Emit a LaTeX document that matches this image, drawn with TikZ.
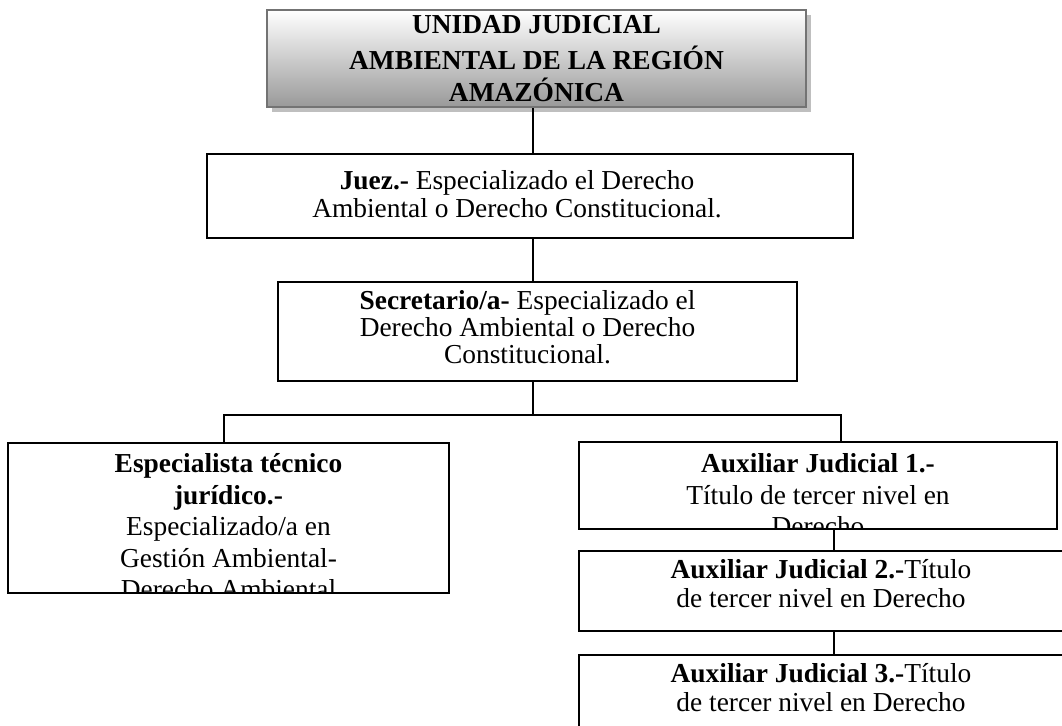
\documentclass[tikz,border=0pt]{standalone}
\usepackage{fontspec}
\setmainfont{Liberation Serif}
\usetikzlibrary{shadows}

\tikzset{
  caja/.style={draw=black, line width=1pt, fill=white, inner sep=0pt},
  cabeza/.style={draw=black!55, line width=1.25pt, top color=white, bottom color=gray!80,
    drop shadow={shadow xshift=2.5pt, shadow yshift=-2.5pt, fill=black!25, opacity=1},
    align=center, inner sep=0pt, font=\fontsize{13.7pt}{15.75pt}\selectfont\bfseries},
  % xshift, first baseline, baselineskip, text
  texto/.style n args={4}{path picture={
      \node[anchor=north, align=center, inner sep=0pt, minimum width=0pt, minimum height=0pt,
        font=\fontsize{13.7pt}{#3}\selectfont]
        at ([xshift=#1, yshift=12pt-#2]path picture bounding box.north) {\rule{0pt}{12pt}#4};}},
  linea/.style={line width=1pt, draw=black},
}

\begin{document}
\begin{tikzpicture}[x=0.5pt, y=-0.5pt]
\useasboundingbox (0,0) rectangle (1062,726);
\clip (0,0) rectangle (1062,726);
\fill[white] (0,0) rectangle (1062,726);

% cabecera
\node[cabeza, minimum width=269.5pt, minimum height=48.5pt] (uni) at (536.5,58.5)
  {UNIDAD JUDICIAL\\[2.5pt]AMBIENTAL DE LA REGIÓN\\AMAZÓNICA};

\node[caja, minimum width=323pt, minimum height=42pt,
  texto={-6.5pt}{17.5pt}{14pt}{\textbf{Juez.-} Especializado el Derecho\\Ambiental o Derecho Constitucional.}]
  (juez) at (530,196) {};

\node[caja, minimum width=259.5pt, minimum height=49.5pt,
  texto={-5pt}{13.5pt}{13.5pt}{\textbf{Secretario/a-} Especializado el\\Derecho Ambiental o Derecho\\Constitucional.}]
  (secr) at (537.5,331.5) {};

% segundo nivel
\node[caja, minimum width=220.5pt, minimum height=75pt,
  texto={0pt}{14.5pt}{15.75pt}{\textbf{Especialista técnico}\\\textbf{jurídico.-}\\Especializado/a en\\Gestión Ambiental-\\Derecho Ambiental}]
  (espec) at (228.5,518) {};

\node[caja, minimum width=239pt, minimum height=43.5pt,
  texto={0pt}{15pt}{15.75pt}{\textbf{Auxiliar Judicial 1.-}\\Título de tercer nivel en\\Derecho}]
  (aux1) at (818,485.5) {};

\node[caja, minimum width=242pt, minimum height=40pt,
  texto={0pt}{13.5pt}{14.5pt}{\textbf{Auxiliar Judicial 2.-}Título\\de tercer nivel en Derecho}]
  (aux2) at (821,591) {};

\node[caja, minimum width=242pt, minimum height=50pt,
  texto={0pt}{13.5pt}{14.5pt}{\textbf{Auxiliar Judicial 3.-}Título\\de tercer nivel en Derecho}]
  (aux3) at (821,705) {};

% conectores
\coordinate (eje) at (533,0);
\coordinate (busL) at (224,415);
\coordinate (busR) at (841,415);
\coordinate (ejeaux) at (834,0);

\draw[linea] (uni.south -| eje) -- (juez.north -| eje);
\draw[linea] (juez.south -| eje) -- (secr.north -| eje);
\draw[linea] (secr.south -| eje) -- (eje |- busL);
\draw[linea] (espec.north -| busL) -- (busL) -- (busR) -- (aux1.north -| busR);
\draw[linea] (aux1.south -| ejeaux) -- (aux2.north -| ejeaux);
\draw[linea] (aux2.south -| ejeaux) -- (aux3.north -| ejeaux);
\end{tikzpicture}
\end{document}
